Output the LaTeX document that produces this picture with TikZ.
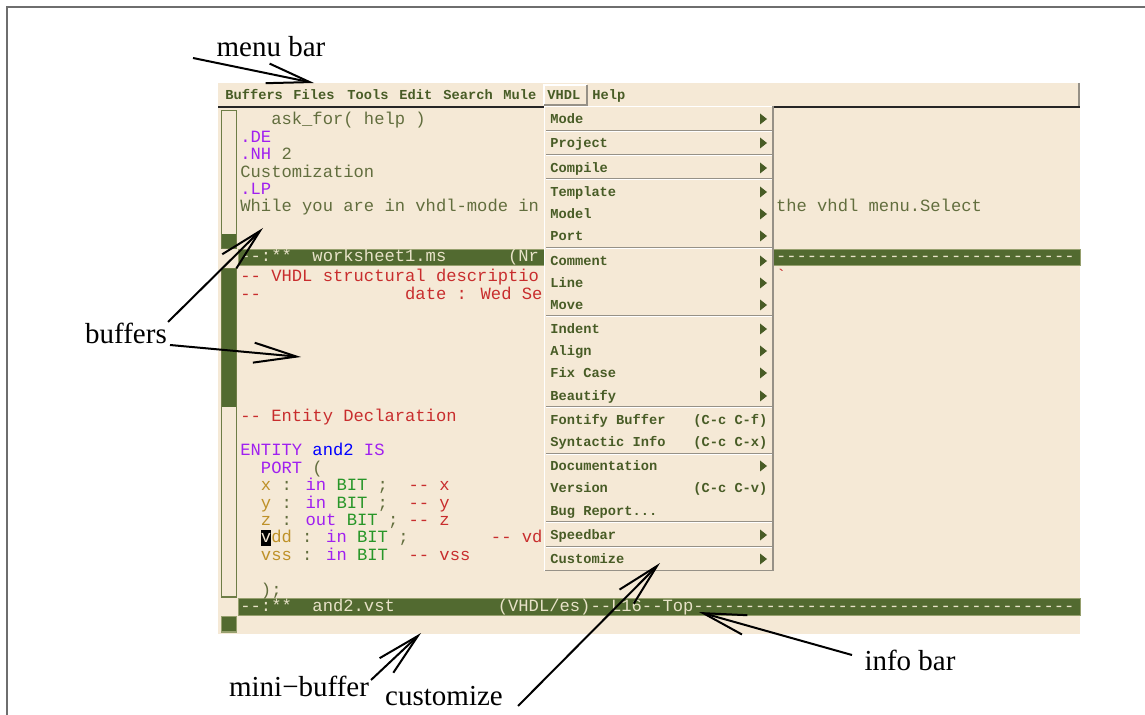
\documentclass[tikz,border=0pt]{standalone}
\usepackage{fontspec}
\setmainfont{Liberation Serif}
\newfontfamily\codefont{Liberation Mono}[Ligatures=TeXOff]
\usetikzlibrary{arrows.meta}

\definecolor{embg}{RGB}{245,233,214}
\definecolor{emtext}{RGB}{98,110,62}
\definecolor{kwpurple}{RGB}{160,32,240}
\definecolor{cmtred}{RGB}{200,45,45}
\definecolor{fnblue}{RGB}{0,0,255}
\definecolor{vargold}{RGB}{190,145,40}
\definecolor{typegreen}{RGB}{40,150,40}
\definecolor{modegreen}{RGB}{82,106,48}
\definecolor{modeedge}{RGB}{150,160,110}
\definecolor{modetext}{RGB}{232,226,200}
\definecolor{menutext}{RGB}{72,92,38}
\definecolor{edgegray}{RGB}{150,145,135}
\definecolor{scrolledge}{RGB}{110,125,70}
\definecolor{framegray}{RGB}{110,110,110}

\newcommand{\blank}[1]{\hspace*{#1\fontcharwd\font`a}}
\newcommand{\ckw}[1]{\textcolor{kwpurple}{#1}}
\newcommand{\ccm}[1]{\textcolor{cmtred}{#1}}
\newcommand{\cfn}[1]{\textcolor{fnblue}{#1}}
\newcommand{\cvr}[1]{\textcolor{vargold}{#1}}
\newcommand{\cty}[1]{\textcolor{typegreen}{#1}}
\newcommand{\dashrun}[1]{\foreach \i in {1,...,#1}{-}}

\tikzset{
  code/.style={anchor=base west, inner sep=0pt, text=emtext,
    font=\codefont\fontsize{8.58}{10}\selectfont},
  modeline/.style={code, text=modetext},
  menuentry/.style={anchor=base west, inner sep=0pt, text=menutext,
    font=\codefont\bfseries\fontsize{6.85}{8}\selectfont},
  note/.style={anchor=base, inner sep=0pt, font=\fontsize{14.5}{17}\selectfont},
  callout/.style={line width=1pt, -{Straight Barb[length=21.5pt,width=10pt]}}
}

\begin{document}
\begin{tikzpicture}[x=0.5pt,y=-0.5pt]
\useasboundingbox (0,0) rectangle (1145,715);
% page frame
\draw[framegray, line width=1pt] (7,715) -- (7,7) -- (1145,7);

% emacs window
\fill[embg] (218,83) rectangle (1080,634);

% menu bar
\draw[edgegray, line width=1pt] (1079,83) -- (1079,106);
\draw[black!85, line width=1pt] (218,107) -- (1080,107);
\draw[white, line width=0.6pt] (544,105) -- (544,85) -- (587,85);
\draw[edgegray, line width=0.8pt] (587,85) -- (587,105) -- (544,105);
\foreach \x/\t in {225/Buffers,293/Files,347/Tools,399/Edit,443/Search,503/Mule,547/VHDL,592/Help}
  \node[menuentry] (bar-\t) at (\x,99.5) {\t};

% scroll bars
\draw[scrolledge, fill=embg, line width=0.8pt] (221.5,110.5) rectangle (236.5,248.5);
\fill[modegreen] (222,234) rectangle (236,248);
\draw[scrolledge, line width=0.8pt] (221.5,268.5) rectangle (236.5,597);
\fill[modegreen] (222,269) rectangle (236,407);
\draw[modeedge, fill=modegreen, line width=0.8pt] (221.5,616.5) rectangle (236.5,632);

% upper buffer
\node[code] (up0) at (240,125) {\blank{3}ask\_for( help )};
\node[code] (up1) at (240,142.4) {\ckw{.DE}};
\node[code] (up2) at (240,159.8) {\ckw{.NH} 2};
\node[code] (up3) at (240,177.2) {Customization};
\node[code] (up4) at (240,194.6) {\ckw{.LP}};
\node[code] (up5) at (240,212) {While you are in vhdl-mode in};
\node[code] (up5r) at (775.6,212) {the vhdl menu.Select};

% mode lines
\draw[modeedge, fill=modegreen, line width=0.5pt] (238,250) rectangle (1080,266);
\node[modeline] (mode1) at (240,262) {--:**\blank{2}worksheet1.ms\blank{6}(Nr};
\node[modeline] (mode1r) at (775.6,262) {\dashrun{29}};
\draw[modeedge, fill=modegreen, line width=0.5pt] (238,598) rectangle (1080,615);
\node[modeline] (mode2) at (240,611) {--:**\blank{2}and2.vst\blank{10}(VHDL/es)--L16--Top\dashrun{37}};

% lower buffer
\node[code] (lo0) at (240,282) {\ccm{-- VHDL structural descriptio}};
\node[code, text=cmtred] (lo0r) at (775.6,282) {`};
\node[code] (lo1) at (240,299.4) {\ccm{--\blank{14}date : Wed Se}};
\node[code] (lo8) at (240,421.2) {\ccm{-- Entity Declaration}};
\node[code] (lo10) at (240,456) {\ckw{ENTITY} \cfn{and2} \ckw{IS}};
\node[code] (lo11) at (240,473.4) {\blank{2}\ckw{PORT} (};
\node[code] (lo12) at (240,490.8) {\blank{2}\cvr{x} : \ckw{in} \cty{BIT} ;\blank{2}\ccm{-- x}};
\node[code] (lo13) at (240,508.2) {\blank{2}\cvr{y} : \ckw{in} \cty{BIT} ;\blank{2}\ccm{-- y}};
\node[code] (lo14) at (240,525.6) {\blank{2}\cvr{z} : \ckw{out} \cty{BIT} ; \ccm{-- z}};
\fill[black] (260.6,530) rectangle (270.9,546);
\node[code] (lo15) at (240,543) {\blank{2}\textcolor{embg}{v}\cvr{dd} : \ckw{in} \cty{BIT} ;\blank{8}\ccm{-- vd}};
\node[code] (lo16) at (240,560.4) {\blank{2}\cvr{vss} : \ckw{in} \cty{BIT}\blank{2}\ccm{-- vss}};
\node[code] (lo18) at (240,595.2) {\blank{2});};

% VHDL menu
\fill[embg] (544,106) rectangle (774,571);
\draw[white, line width=0.8pt] (544.5,571) -- (544.5,106.5) -- (774,106.5);
\draw[edgegray, line width=0.8pt] (773,106.5) -- (773,570.5) -- (544.5,570.5);
\foreach \y in {131,155,179,248,316,407,454,522,547} {
  \draw[edgegray, line width=0.6pt] (546,\y-0.6) -- (772,\y-0.6);
  \draw[white, line width=0.6pt] (546,\y+0.6) -- (772,\y+0.6);
}
\foreach \y/\t in {119/Mode,143/Project,168/Compile,192/Template,214/Model,236/Port,
    261/Comment,283/Line,305/Move,329/Indent,351/Align,373/Fix Case,396/Beautify,
    420/Fontify Buffer,442/Syntactic Info,466/Documentation,488/Version,
    535/Speedbar,559/Customize}
  \node[menuentry] (item-\y) at (550,\y+4.5) {\t};
\node[menuentry] (item-511) at (550,515.5) {Bug Report...};
\foreach \y/\k in {420/f,442/x,488/v}
  \node[menuentry] (key-\y) at (693,\y+4.5) {(C-c C-\k)};
\foreach \y in {119,143,168,192,214,236,261,283,305,329,351,373,396,466,535,559}
  \fill[menutext] (760,\y-5.5) -- (767,\y) -- (760,\y+5.5) -- cycle;

% callouts
\node[note] (menubar) at (271,57) {menu bar};
\node[note] (buffers) at (126,344) {buffers};
\node[note] (minibuf) at (299,696) {mini−buffer};
\node[note] (custom) at (444,705) {customize};
\node[note] (infobar) at (910,670) {info bar};

\coordinate (menutail) at (193,58);
\coordinate (menutip) at (314,83);
\coordinate (buftailA) at (168,322);
\coordinate (buftipA) at (263,228);
\coordinate (buftailB) at (170,345);
\coordinate (buftipB) at (301,357);
\coordinate (minitail) at (371,680);
\coordinate (minitip) at (421,633);
\coordinate (custtail) at (518,706);
\coordinate (custtip) at (660,563);
\coordinate (infotail) at (852,655);
\coordinate (infotip) at (699,612);

\draw[callout] (menutail) -- (menutip);
\draw[callout] (buftailA) -- (buftipA);
\draw[callout] (buftailB) -- (buftipB);
\draw[callout] (minitail) -- (minitip);
\draw[callout] (custtail) -- (custtip);
\draw[callout] (infotail) -- (infotip);

\end{tikzpicture}
\end{document}
